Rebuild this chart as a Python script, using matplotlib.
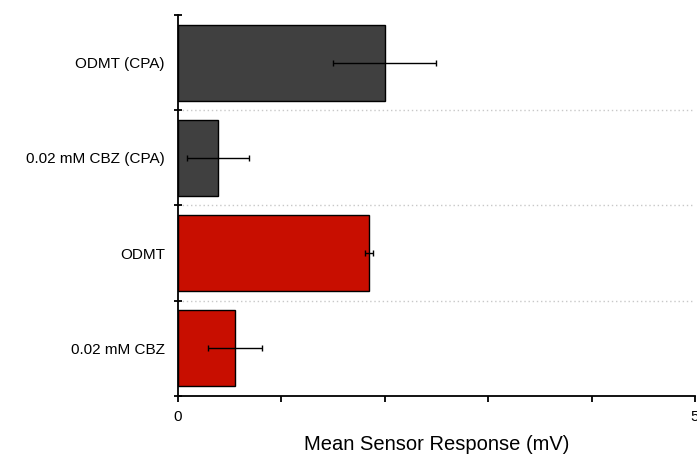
import matplotlib
matplotlib.use('Agg')
import matplotlib.pyplot as plt

# sensor response per condition (top to bottom)
labels = ['ODMT (CPA)', '0.02 mM CBZ (CPA)', 'ODMT', '0.02 mM CBZ']
means = [2.0, 0.39, 1.85, 0.55]
errors = [0.5, 0.30, 0.04, 0.26]
colors = ['#404040', '#404040', '#c80e00', '#c80e00']

plt.rcParams['font.family'] = ['Liberation Sans', 'DejaVu Sans']

fig = plt.figure(figsize=(6.97, 4.57), dpi=100)
ax = fig.add_axes([0.2554, 0.1335, 0.7416, 0.8337])

pos = list(range(len(labels)))[::-1]
ax.barh(pos, means, height=0.8, color=colors, edgecolor='black', linewidth=1,
        xerr=errors, error_kw=dict(ecolor='black', elinewidth=1, capsize=2.5,
                                   capthick=1))

ax.set_xlim(0, 5)
ax.set_ylim(-0.5, len(labels) - 0.5)

# category labels at bar centres, tick marks at the boundaries
ax.set_yticks(pos)
ax.set_yticklabels(labels, fontsize=11)
ax.tick_params(axis='y', which='major', length=0, pad=9.5)
bounds = [p - 0.5 for p in range(len(labels) + 1)]
ax.set_yticks(bounds, minor=True)
ax.tick_params(axis='y', which='minor', direction='inout', length=6, width=1.3)
for b in bounds[1:-1]:
    ax.axhline(b, color='#c8c8c8', linestyle=(0, (1, 2)), linewidth=1, zorder=0)

ax.set_xticks([0, 1, 2, 3, 4, 5])
ax.set_xticklabels(['0', '', '', '', '', '5'], fontsize=11)
ax.tick_params(axis='x', direction='out', length=4, width=1.3, pad=6)
ax.set_xlabel('Mean Sensor Response (mV)', fontsize=14.5, labelpad=8)

for s in ['top', 'right']:
    ax.spines[s].set_visible(False)
for s in ['left', 'bottom']:
    ax.spines[s].set_linewidth(1.3)

fig.savefig('out.png', dpi=100)
